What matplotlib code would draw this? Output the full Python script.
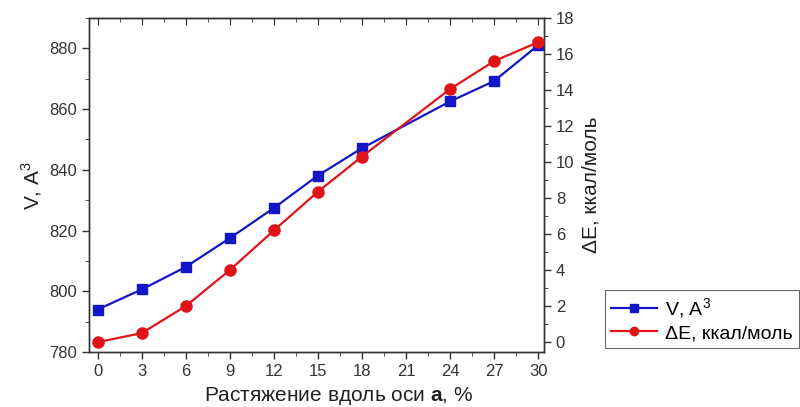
import numpy as np
import matplotlib
matplotlib.use("Agg")
import matplotlib.pyplot as plt
from matplotlib.ticker import MultipleLocator

plt.rcParams['font.family'] = ['Liberation Sans', 'DejaVu Sans']
plt.rcParams['mathtext.fontset'] = 'custom'
plt.rcParams['mathtext.rm'] = 'Liberation Sans'
plt.rcParams['mathtext.bf'] = 'Liberation Sans:bold'

strain = [0, 3, 6, 9, 12, 15, 18, 24, 27, 30]
volume = [794.0, 800.6, 808.0, 817.5, 827.4, 838.1, 847.1, 862.5, 869.2, 881.0]
dE = [0.0, 0.5, 2.0, 4.0, 6.2, 8.35, 10.3, 14.05, 15.6, 16.65]

fig = plt.figure(figsize=(8, 4.07), dpi=100)
ax = fig.add_axes([0.111, 0.135, 0.569, 0.821])
ax2 = ax.twinx()

l1, = ax.plot(strain, volume, color='#1515c8', lw=1.6, marker='s', ms=7,
              label='V, A$^3$', zorder=3)
l2, = ax2.plot(strain, dE, color='#e01418', lw=1.6, marker='o', ms=8,
               label='ΔE, ккал/моль', zorder=3)

ax.set_xlim(-0.6, 30.4)
ax.set_ylim(780, 890)
ax2.set_ylim(-0.55, 18)

ax.set_xticks(np.arange(0, 31, 3))
ax.xaxis.set_minor_locator(MultipleLocator(1.5))
ax.set_yticks(np.arange(780, 881, 20))
ax.yaxis.set_minor_locator(MultipleLocator(10))
ax2.set_yticks(np.arange(0, 19, 2))
ax2.yaxis.set_minor_locator(MultipleLocator(1))

ax.tick_params(axis='both', which='major', direction='out', length=5, width=1,
               labelsize=12, colors='#333333', labelcolor='#333333')
ax.tick_params(axis='both', which='minor', direction='out', length=3, colors='#333333')

# top axis: ticks pointing inward, no labels
sec = ax.secondary_xaxis('top')
sec.set_xticks(np.arange(0, 31, 3))
sec.xaxis.set_minor_locator(MultipleLocator(1.5))
sec.tick_params(axis='x', which='major', direction='in', length=5, labeltop=False, colors='#333333')
sec.tick_params(axis='x', which='minor', direction='in', length=3, colors='#333333')
sec.spines['top'].set_color('#333333')

ax2.tick_params(axis='y', which='major', direction='out', length=5, width=1,
                labelsize=12, colors='#333333')
ax2.tick_params(axis='y', which='minor', direction='out', length=3, colors='#333333')

for a in (ax, ax2):
    for s in a.spines.values():
        s.set_color('#333333')
        s.set_linewidth(1.0)

ax.set_xlabel('Растяжение вдоль оси $\\mathbf{a}$, %', fontsize=15, color='#222222')
ax.xaxis.set_label_coords(0.55, -0.1)
ax.xaxis.label.set_va('top')
ax.set_ylabel('V, A$^3$', fontsize=15, color='#222222', labelpad=4)
ax2.set_ylabel('ΔE, ккал/моль', fontsize=15, color='#222222', labelpad=5)

leg = fig.legend(handles=[l1, l2], loc='lower left', bbox_to_anchor=(0.756, 0.145),
                 bbox_transform=fig.transFigure, fancybox=False, frameon=True,
                 edgecolor='#444444', fontsize=14, handlelength=2.4, handletextpad=0.4,
                 borderaxespad=0, borderpad=0.3, labelspacing=0.2, markerscale=0.75)
leg.get_frame().set_linewidth(0.8)

fig.savefig('out.png', dpi=100)
